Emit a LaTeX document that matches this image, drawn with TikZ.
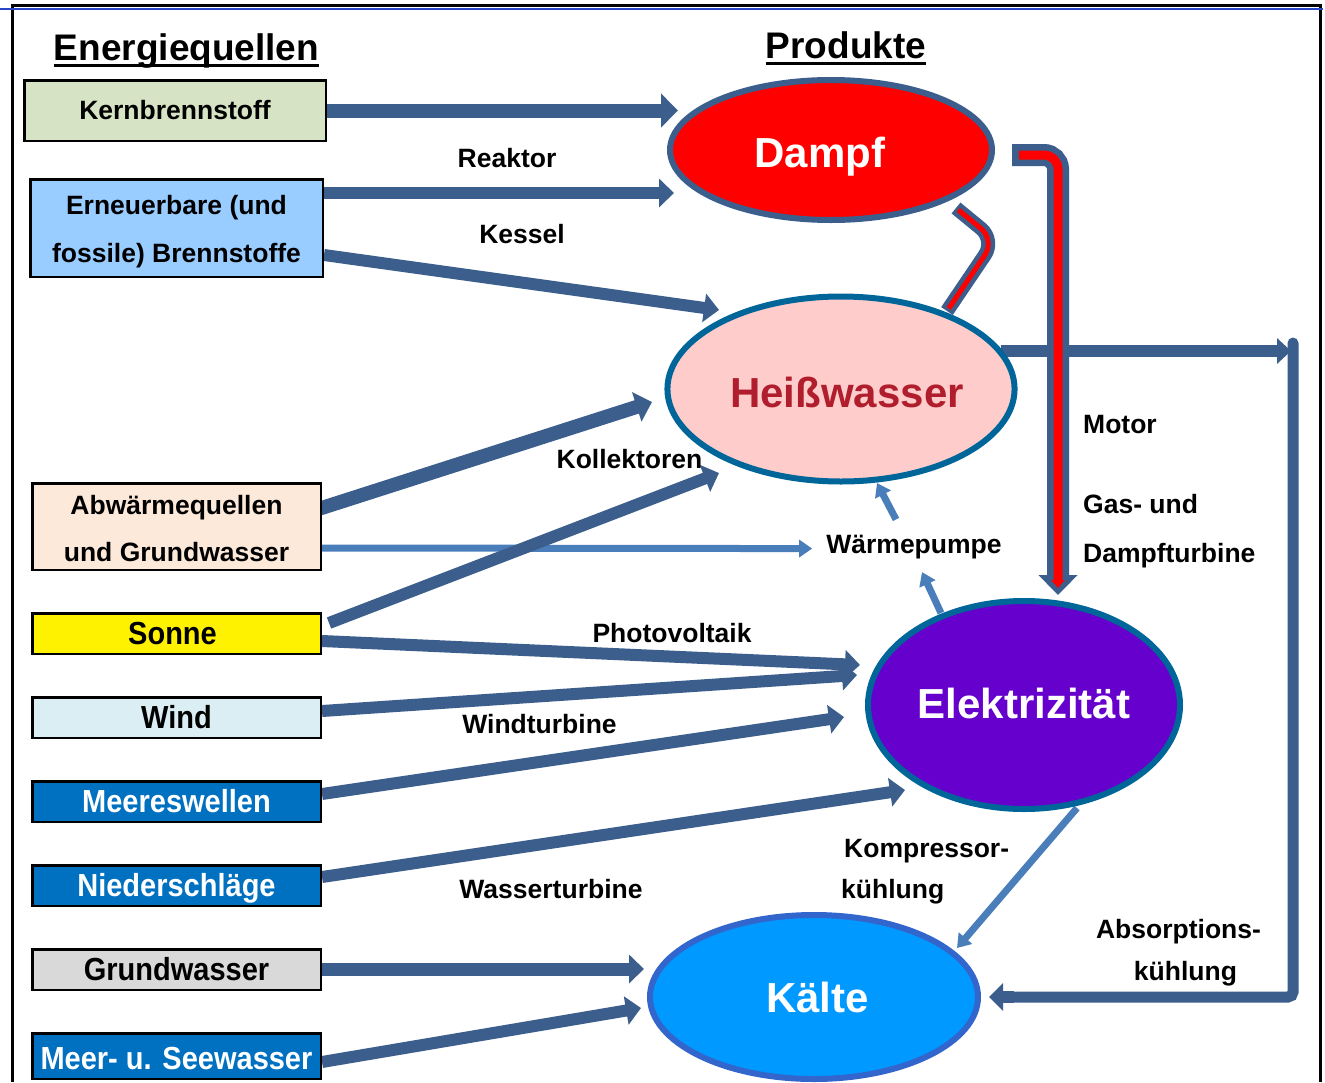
\documentclass[tikz,border=0pt]{standalone}
\usepackage{fontspec}
\usepackage{graphicx}
\setmainfont{Liberation Sans}
\usetikzlibrary{arrows.meta,shapes.geometric,calc}
\newcommand\myfs[1]{\fontsize{#1}{#1}\selectfont}
\definecolor{arrblue}{RGB}{59,94,140}
\definecolor{lightarr}{RGB}{74,126,187}
\definecolor{framblue}{RGB}{40,70,200}
\definecolor{kerngreen}{RGB}{214,227,196}
\definecolor{ernblue}{RGB}{153,204,255}
\definecolor{abwpeach}{RGB}{253,233,217}
\definecolor{windblue}{RGB}{218,238,243}
\definecolor{seablue}{RGB}{0,112,192}
\definecolor{grundgray}{RGB}{217,217,217}
\definecolor{hwpink}{RGB}{255,204,204}
\definecolor{hwtext}{RGB}{176,30,45}
\definecolor{hwborder}{RGB}{0,102,153}
\definecolor{elviolet}{RGB}{102,0,204}
\definecolor{kaltblue}{RGB}{0,153,255}
\definecolor{kaltborder}{RGB}{51,102,204}
\definecolor{dampfred}{RGB}{255,0,0}
\pgfdeclarelayer{bg}
\pgfsetlayers{bg,main}
\begin{document}
\begin{tikzpicture}[x=1pt,y=-1pt,
  box/.style={draw=black,line width=2.5pt,inner sep=0pt,align=center},
  lowbox/.style={box,font=\bfseries\myfs{29},minimum width=288.5pt,minimum height=40.5pt,text height=24pt,text depth=2pt},
  ell/.style={ellipse,inner sep=0pt,line width=6pt,font=\bfseries\myfs{42},text depth=0pt},
  lbl/.style={font=\bfseries\myfs{26.5},inner sep=0pt,anchor=base},
  ttl/.style={font=\bfseries\myfs{37},inner sep=0pt,anchor=base},
  arr/.style={draw=arrblue,line width=12pt,-{Triangle[width=28pt,length=15pt]}},
  larr/.style={draw=lightarr,line width=7pt,-{Triangle[width=17pt,length=13pt]}}
]
\useasboundingbox (0,0) rectangle (1325,1082);

% titles
\node[ttl] (tq) at (186.5,60) {Energiequellen};
\node[ttl] (tp) at (846,58) {Produkte};
\draw[line width=3.5pt] ($(tq.base west)+(0,5.5)$) -- ($(tq.base east)+(0,5.5)$);
\draw[line width=3.5pt] ($(tp.base west)+(0,5.5)$) -- ($(tp.base east)+(0,5.5)$);

% source boxes
\node[box,font=\bfseries\myfs{26.5},fill=kerngreen,minimum width=301.5pt,minimum height=60.5pt,text height=19pt,text depth=2pt] (kern) at (175,110.5) {Kernbrennstoff};
\node[box,font=\bfseries\fontsize{26.5}{48}\selectfont,fill=ernblue,minimum width=292.5pt,minimum height=97.5pt] (ern) at (176.5,228) {\rule{0pt}{25.5pt}Erneuerbare (und\\fossile) Brennstoffe};
\node[box,font=\bfseries\fontsize{26.5}{47}\selectfont,fill=abwpeach,minimum width=288.5pt,minimum height=86.5pt] (abw) at (176.5,526.5) {\rule{0pt}{23.5pt}Abwärmequellen\\und Grundwasser};
\node[lowbox,fill=yellow] (sonne) at (176.5,633.5) {\scalebox{1}[1.1]{Sonne}\hspace*{8pt}};
\node[lowbox,fill=windblue] (wind) at (176.5,717.5) {\scalebox{1}[1.1]{Wind}};
\node[lowbox,fill=seablue,text=white] (meerw) at (176.5,801.5) {\scalebox{1}[1.1]{Meereswellen}};
\node[lowbox,fill=seablue,text=white] (nied) at (176.5,885.5) {\scalebox{1}[1.1]{Niederschläge}};
\node[lowbox,fill=grundgray] (grund) at (176.5,969.5) {\scalebox{1}[1.1]{Grundwasser}};
\node[lowbox,fill=seablue,text=white,minimum height=45.5pt,text height=28pt] (meer) at (176.5,1056) {\scalebox{1}[1.1]{Meer- u. Seewasser}};

% products
\node[ell,draw=arrblue,fill=dampfred,text=white,minimum width=322pt,minimum height=140pt,text height=34pt] (dampf) at (831,150) {Dampf\hspace*{22pt}};
\node[ell,draw=hwborder,fill=hwpink,text=hwtext,minimum width=344pt,minimum height=185pt,text height=36pt] (hw) at (841,389) {\hspace*{12pt}Heißwasser};
\node[ell,draw=hwborder,fill=elviolet,text=white,minimum width=312pt,minimum height=208pt,text height=26pt] (elek) at (1024,705) {Elektrizität};
\node[ell,draw=kaltborder,fill=kaltblue,text=white,minimum width=328pt,minimum height=164pt,text height=30pt] (kalt) at (814,997) {\hspace*{7pt}Kälte};

% labels
\node[lbl] (lreak) at (507,167) {Reaktor};
\node[lbl] (lkess) at (522,243) {Kessel};
\node[lbl] (lkoll) at (629.5,468) {Kollektoren};
\node[lbl] (wp) at (914,553) {Wärmepumpe};
\node[lbl,fill=white,inner sep=1pt] (lpv) at (672,642) {Photovoltaik};
\node[lbl] (lwind) at (539.5,733) {Windturbine};
\node[lbl] (lwass) at (551,898) {Wasserturbine};
\node[lbl,anchor=base west] (lmot) at (1083,433) {Motor};
\node[lbl,anchor=base west] (lgas) at (1083,513) {Gas- und};
\node[lbl,anchor=base west] (ldt) at (1083,562) {Dampfturbine};
\node[lbl,anchor=base west] (lkomp) at (844,857) {Kompressor-};
\node[lbl,anchor=base west] (lkueh1) at (841,898) {kühlung};
\node[lbl] (labs) at (1178.5,938) {Absorptions-};
\node[lbl] (lkueh2) at (1185.5,980) {kühlung};

\begin{pgfonlayer}{bg}
\fill[white] (0,0) rectangle (1325,1082);
\draw[line width=3pt] (12,1082) -- (12,5) -- (1320,5) -- (1320,1082);
\draw[line width=2pt,framblue] (0,9) -- (1323,9);

% tip coordinates
\coordinate (kTip) at ($(dampf.center)+(-153,-39.5)$);
\coordinate (eTip1) at ($(dampf.center)+(-157,43)$);
\coordinate (eTip2) at ($(hw.center)+(-122,-79)$);
\coordinate (aTip1) at ($(hw.center)+(-189,13)$);
\coordinate (sTip1) at ($(hw.center)+(-122,84)$);
\coordinate (aTip2) at ($(wp.west)+(-14,2)$);
\coordinate (sTip2) at ($(elek.center)+(-164,-40)$);
\coordinate (wTip) at ($(elek.center)+(-167,-30)$);
\coordinate (mwTip) at ($(elek.center)+(-180,12)$);
\coordinate (nTip) at ($(elek.center)+(-119,85)$);
\coordinate (gTip) at ($(kalt.center)+(-170,-28)$);
\coordinate (msTip) at ($(kalt.center)+(-173,11)$);

\draw[arr,line width=14pt,-{Triangle[width=33pt,length=17pt]}] (kern.east) -- (kTip);
\draw[arr] ($(ern.east)+(0,-35)$) -- (eTip1);
\draw[arr] ($(ern.east)+(0,27)$) -- (eTip2);
\draw[arr,line width=14pt,-{Triangle[width=30pt,length=16pt]}] ($(abw.east)+(-2,-18)$) -- (aTip1);
\draw[larr] ($(abw.east)+(0,21.5)$) -- (aTip2);
\draw[arr] ($(sonne.east)+(7,-10.5)$) -- (sTip1);
\draw[arr] ($(sonne.east)+(0,7.5)$) -- (sTip2);
\draw[arr] ($(wind.east)+(0,-6.5)$) -- (wTip);
\draw[arr] ($(meerw.east)+(0,-7.5)$) -- (mwTip);
\draw[arr] ($(nied.east)+(0,-8.5)$) -- (nTip);
\draw[arr,line width=13pt] ($(grund.east)+(0,-0.5)$) -- (gTip);
\draw[arr] ($(meer.east)+(0,6)$) -- (msTip);

% heat pump and compressor arrows
\draw[larr] ($(wp.north)+(-18,-15)$) -- ($(hw.center)+(36,94)$);
\draw[larr] ($(elek.center)+(-83,-92)$) -- ($(wp.south)+(8,13.4)$);
\draw[larr] ($(elek.center)+(53,103)$) -- ($(kalt.center)+(143,-49)$);

% absorption loop
\coordinate (rc1) at (1291,351);
\coordinate (rc2) at (1293,343);
\coordinate (kR) at ($(kalt.center)+(175,0)$);
\draw[arr,-{Triangle[width=25pt,length=14pt]}] ($(hw.center)+(160,-38)$) -- (rc1);
\draw[draw=arrblue,line width=11pt,line cap=round,rounded corners=5pt] (rc2) -- (rc2 |- kR) -- ($(kR)+(20,0)$);
\draw[arr,-{Triangle[width=27pt,length=14pt]}] ($(kR)+(25,0)$) -- (kR);

% steam pipes
\coordinate (p1s) at ($(dampf.center)+(181,5)$);
\coordinate (p1e) at ($(elek.center)+(34,-110)$);
\draw[draw=arrblue,line width=22pt,rounded corners=14pt,-{Triangle[width=38pt,length=20pt]}] (p1s) -- (p1e |- p1s) -- (p1e);
\draw[draw=dampfred,line width=9pt,rounded corners=14pt,shorten <=7pt,shorten >=7pt,-{Triangle[width=13pt,length=8pt]}] (p1s) -- (p1e |- p1s) -- (p1e);
\coordinate (p2s) at ($(hw.center)+(106,-78)$);
\coordinate (p2c) at (995,240);
\coordinate (p2e) at ($(dampf.center)+(125,58)$);
\draw[draw=arrblue,line width=14pt,rounded corners=18pt] (p2s) -- (p2c) -- (p2e);
\draw[draw=dampfred,line width=5pt,rounded corners=18pt,shorten <=3pt,shorten >=3pt] (p2s) -- (p2c) -- (p2e);
\end{pgfonlayer}
\end{tikzpicture}
\end{document}
